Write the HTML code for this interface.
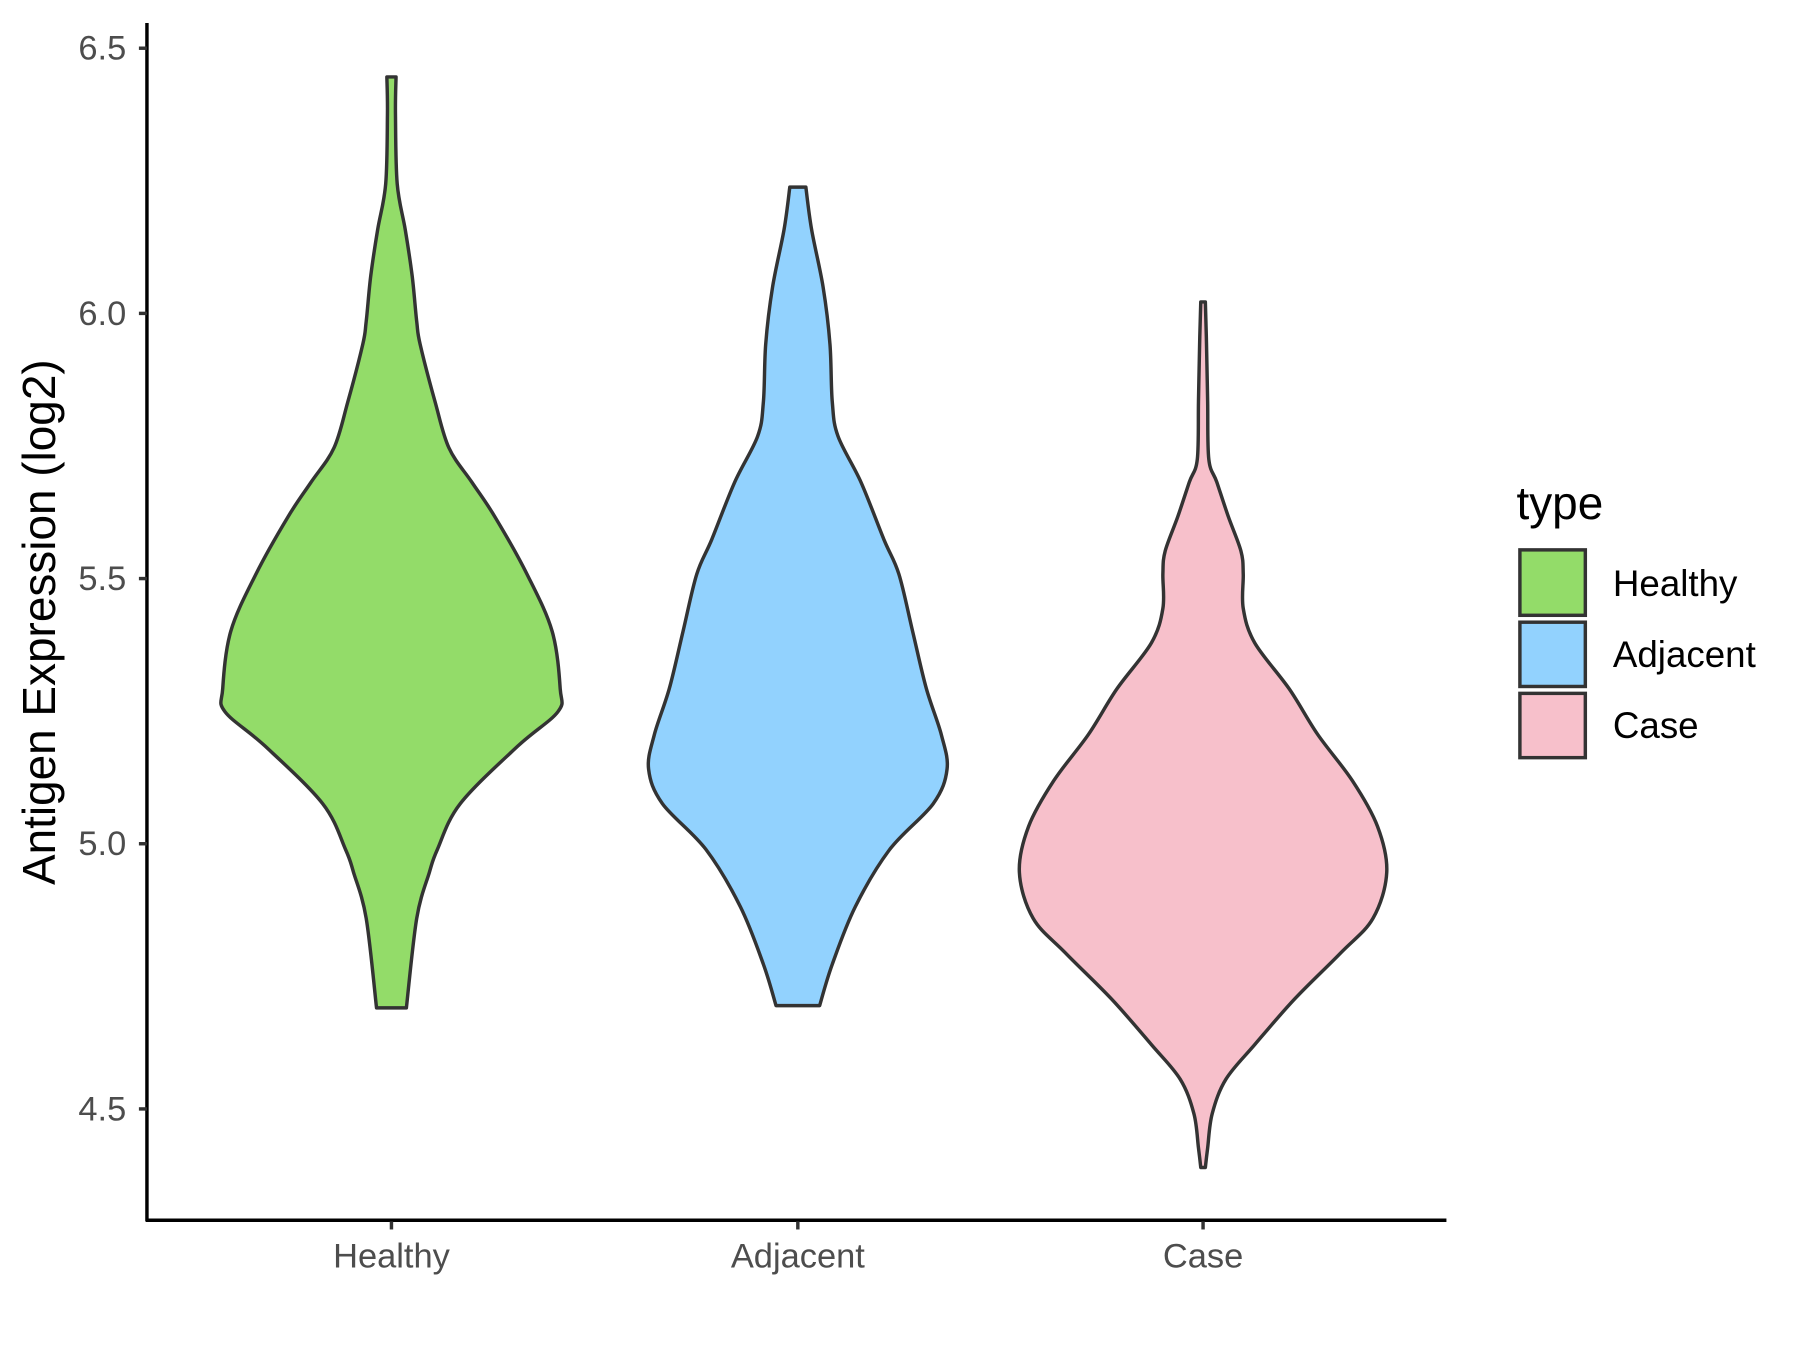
<!DOCTYPE html>
<html><head><meta charset="utf-8"><style>
html,body{margin:0;padding:0;background:#fff;}
svg{display:block;}
text{font-family:"Liberation Sans",Arial,sans-serif;}
</style></head><body>
<svg width="1800" height="1350" viewBox="0 0 1568 1176" preserveAspectRatio="none" xmlns="http://www.w3.org/2000/svg">
<rect width="1568" height="1176" fill="#fff"/>
<g stroke="#333" stroke-width="3" stroke-linejoin="round">
<path id="v1" fill="#93dc69" d=""/>
<path id="v2" fill="#92d2fe" d=""/>
<path id="v3" fill="#f7c0cb" d=""/>
</g>
<g stroke="#000" stroke-width="3" fill="none">
<line x1="128" y1="20" x2="128" y2="1064"/>
<line x1="127" y1="1063" x2="1260" y2="1063"/>
</g>
<g stroke="#333" stroke-width="3">
<line x1="121" y1="42" x2="128" y2="42"/><line x1="121" y1="273" x2="128" y2="273"/><line x1="121" y1="504" x2="128" y2="504"/><line x1="121" y1="735" x2="128" y2="735"/><line x1="121" y1="966" x2="128" y2="966"/>
<line x1="341" y1="1064" x2="341" y2="1071"/><line x1="695" y1="1064" x2="695" y2="1071"/><line x1="1048" y1="1064" x2="1048" y2="1071"/>
</g>
<g fill="#4d4d4d" font-size="30" text-anchor="end">
<text x="110" y="52">6.5</text><text x="110" y="283">6.0</text><text x="110" y="514">5.5</text><text x="110" y="745">5.0</text><text x="110" y="976">4.5</text>
</g>
<g fill="#4d4d4d" font-size="30" text-anchor="middle">
<text x="341" y="1104">Healthy</text><text x="695" y="1104">Adjacent</text><text x="1048" y="1104">Case</text>
</g>
<text transform="translate(48,542) rotate(-90)" text-anchor="middle" font-size="40" fill="#000">Antigen Expression (log2)</text>
<text x="1321" y="452" font-size="40" fill="#000">type</text>
<g stroke="#333" stroke-width="3">
<rect x="1324" y="479" width="57" height="57" fill="#93dc69"/>
<rect x="1324" y="542" width="57" height="56" fill="#92d2fe"/>
<rect x="1324" y="604" width="57" height="56" fill="#f7c0cb"/>
</g>
<g font-size="32" fill="#000">
<text x="1405" y="519">Healthy</text><text x="1405" y="581">Adjacent</text><text x="1405" y="643">Case</text>
</g>
</svg>
<script>
function build(id,cx,pts){
  var r=pts.map(function(p){return [cx+p[1],p[0]];});
  var l=pts.slice().reverse().map(function(p){return [cx-p[1],p[0]];});
  function cr(a){
    var s="";
    for(var i=0;i<a.length-1;i++){
      var p0=a[i>0?i-1:i],p1=a[i],p2=a[i+1],p3=a[i+2<a.length?i+2:i+1];
      var c1=[p1[0]+(p2[0]-p0[0])/6,p1[1]+(p2[1]-p0[1])/6];
      var c2=[p2[0]-(p3[0]-p1[0])/6,p2[1]-(p3[1]-p1[1])/6];
      s+=" C"+c1[0].toFixed(1)+","+c1[1].toFixed(1)+" "+c2[0].toFixed(1)+","+c2[1].toFixed(1)+" "+p2[0].toFixed(1)+","+p2[1].toFixed(1);
    }
    return s;
  }
  var d="M"+l[l.length-1][0]+","+l[l.length-1][1]+" L"+r[0][0]+","+r[0][1]+cr(r)+" L"+l[0][0]+","+l[0][1]+cr(l)+" Z";
  document.getElementById(id).setAttribute("d",d);
}
build("v1",341,[[67,4],[100,3.5],[160,5],[200,12],[240,18],[280,22],[300,25],[350,38],[390,50],[420,70],[450,90],[500,118],[550,140],[600,147],[620,145],[650,110],[700,60],[740,40],[760,33],[800,22],[878,13]]);
build("v2",695,[[163,7],[200,12],[250,22],[300,28],[350,30],[380,35],[420,55],[470,75],[500,88],[550,100],[600,112],[640,125],[670,130],[700,118],[740,80],[790,50],[840,30],[876,19]]);
build("v3",1048,[[263,2],[300,3],[350,4],[400,5],[420,12],[450,22],[480,33],[500,35],[530,35],[560,45],[600,75],[640,100],[680,130],[720,152],[760,160],[800,148],[830,120],[870,80],[910,45],[940,20],[970,8],[1000,4],[1017,2]]);
</script>
</body></html>
